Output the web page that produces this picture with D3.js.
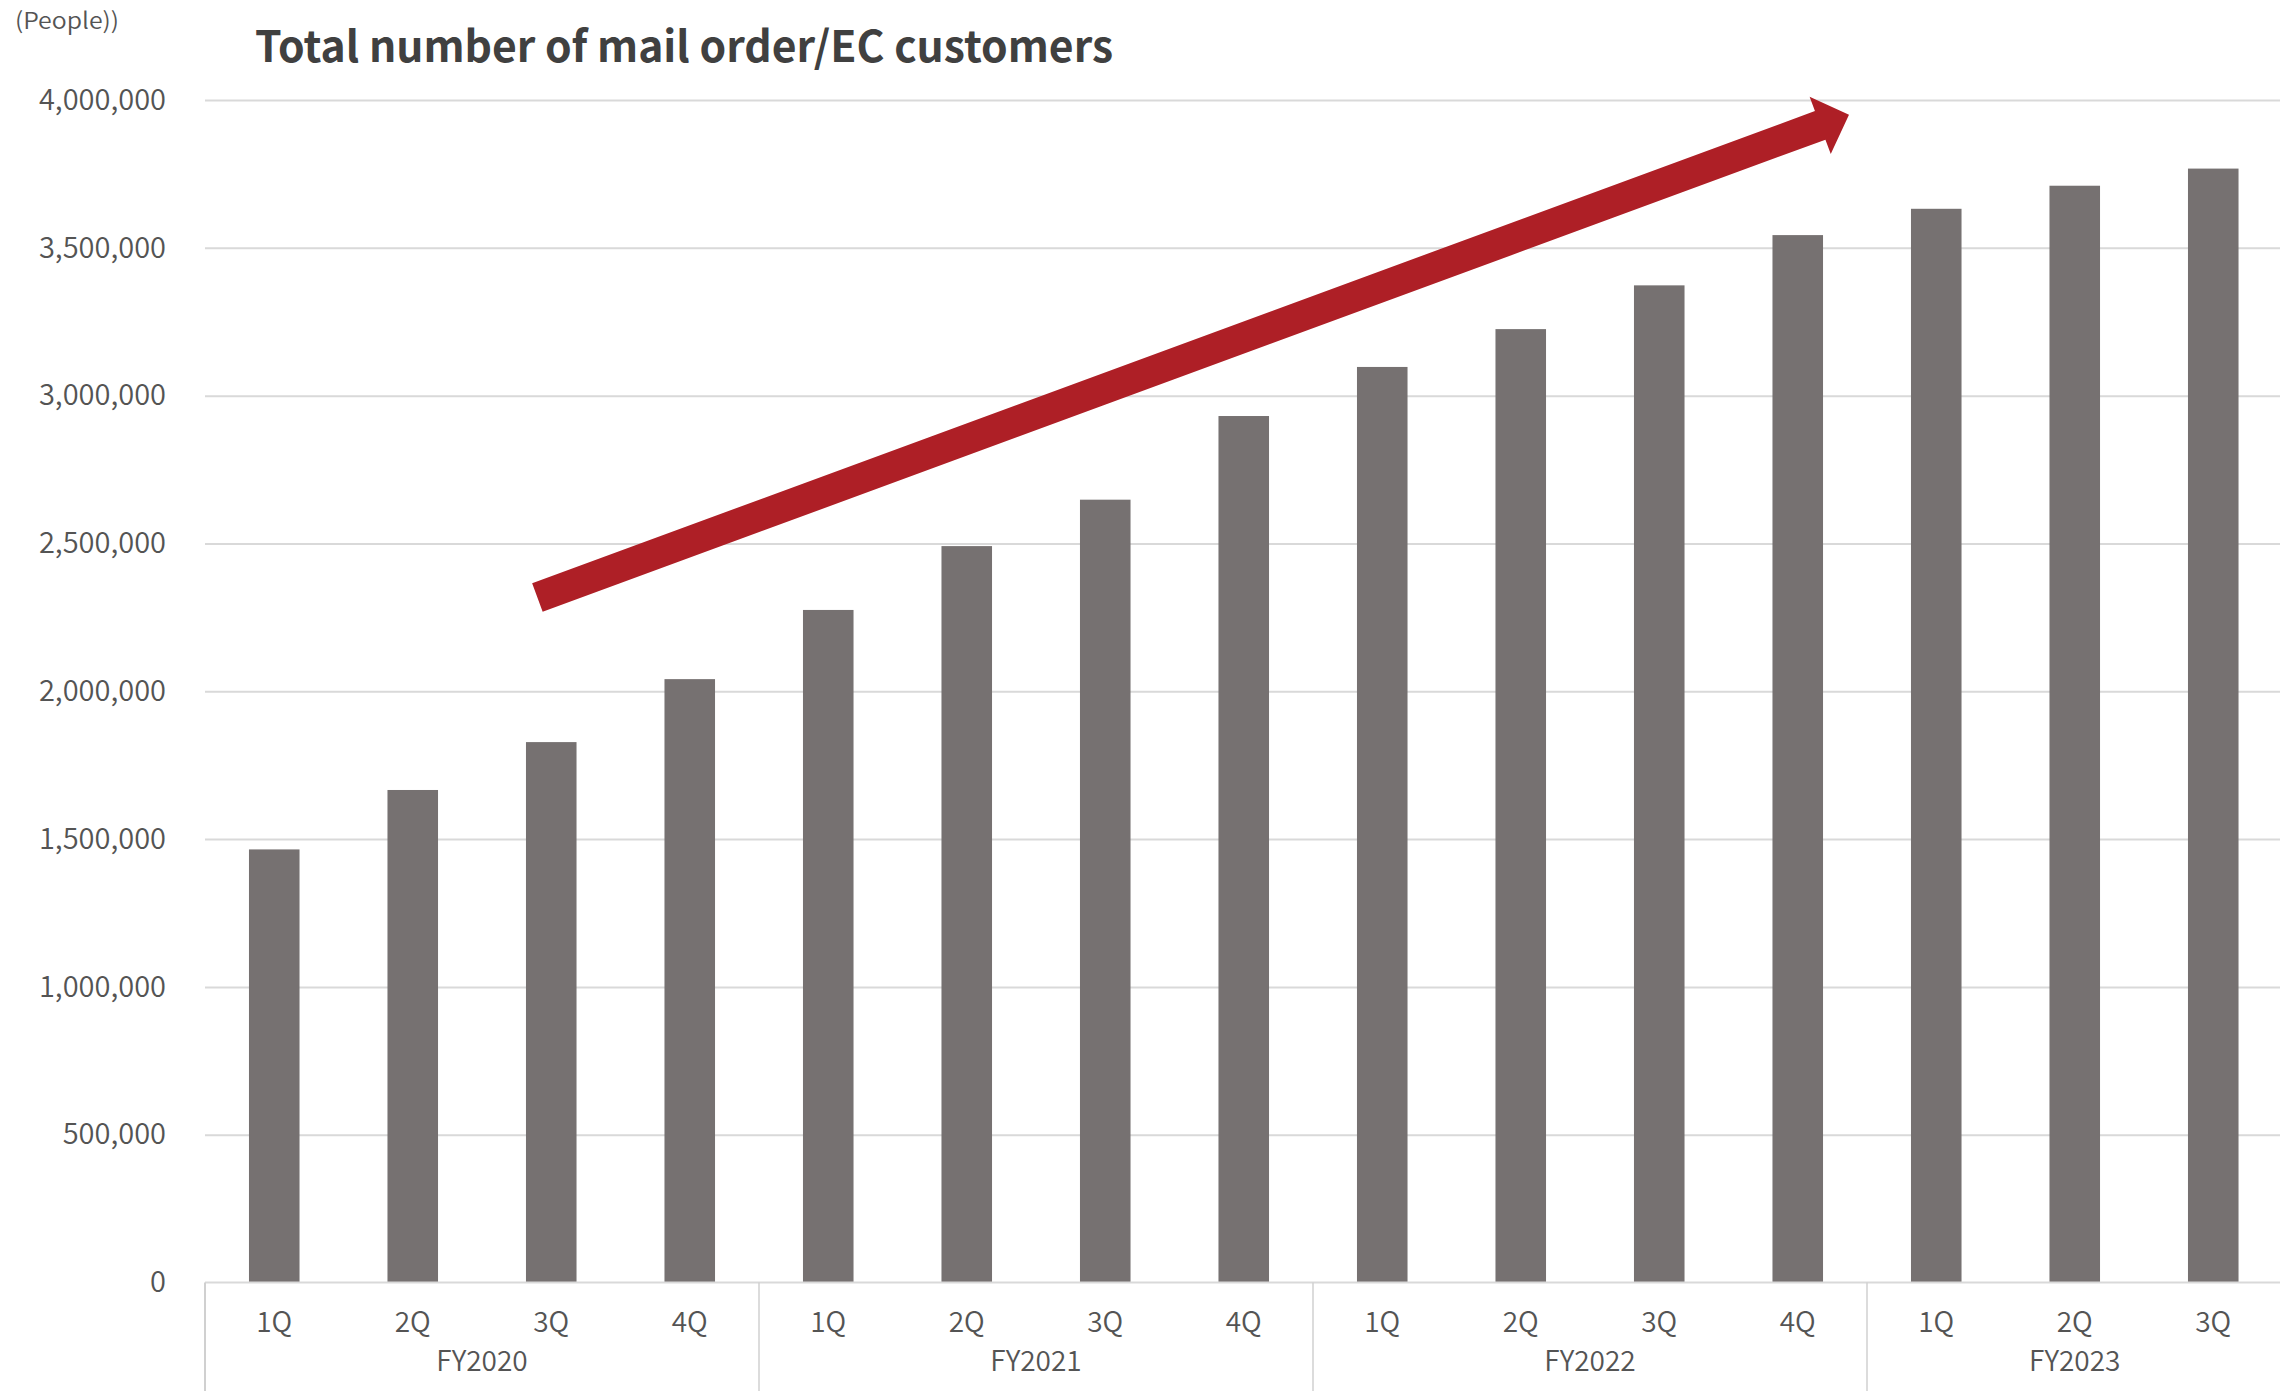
<!DOCTYPE html>
<html>
<head>
<meta charset="utf-8">
<script src="https://cdn.jsdelivr.net/npm/d3@7"></script>
<style>
  html, body { margin: 0; padding: 0; background: #ffffff; }
  svg { display: block; }
  text { font-family: "Noto Sans CJK JP", "Noto Sans", sans-serif; }
</style>
</head>
<body>
<svg id="chart" width="2280" height="1391"></svg>
<script>
// Quarterly totals of mail order / EC customers (people)
const fiscalYears = ["FY2020", "FY2021", "FY2022", "FY2023"];
const barYear = ["FY2020","FY2020","FY2020","FY2020",
                 "FY2021","FY2021","FY2021","FY2021",
                 "FY2022","FY2022","FY2022","FY2022",
                 "FY2023","FY2023","FY2023"];
const barQuarter = ["1Q","2Q","3Q","4Q",
                    "1Q","2Q","3Q","4Q",
                    "1Q","2Q","3Q","4Q",
                    "1Q","2Q","3Q"];
const customers = [1465000, 1666000, 1828000, 2041000,
                   2275000, 2491000, 2648000, 2931000,
                   3097000, 3225000, 3373000, 3543000,
                   3632000, 3710000, 3768000];
const yTicks = [0, 500000, 1000000, 1500000, 2000000, 2500000, 3000000, 3500000, 4000000];

// Trend arrow, given as (bar position, value) at its tail and tip
const trendFrom = [1.9, 2317000];
const trendTo = [11.37, 3950000];

const W = 2280, H = 1391;
const plot = { left: 205, right: 2282.5, top: 100, bottom: 1282.5 };
const labelColor = "#545454";

const svg = d3.select("#chart");
svg.append("rect").attr("width", W).attr("height", H).attr("fill", "#ffffff");

const keys = customers.map((d, i) => i);
const slot = d3.scaleBand().domain(keys).range([plot.left, plot.right]).padding(0);
const xBar = d3.scaleBand().domain(keys).range([plot.left, plot.right])
  .paddingInner(0.635).paddingOuter(0.3175);
const y = d3.scaleLinear().domain([0, 4000000]).range([plot.bottom, plot.top]);

// horizontal gridlines
const grid = svg.append("g")
  .attr("transform", `translate(${plot.left},0)`)
  .call(d3.axisLeft(y).tickValues(yTicks.filter(v => v > 0))
    .tickSize(-(plot.right - plot.left)).tickFormat(""));
grid.select(".domain").remove();
grid.selectAll(".tick line").attr("stroke", "#d9d9d9").attr("stroke-width", 2);

// value axis labels
const yAxis = svg.append("g")
  .attr("transform", `translate(166,0)`)
  .call(d3.axisLeft(y).tickValues(yTicks).tickSize(0).tickPadding(0)
    .tickFormat(d3.format(",")));
yAxis.select(".domain").remove();
yAxis.selectAll(".tick text")
  .attr("fill", labelColor)
  .style("font-size", "29px")
  .style("font-weight", "350")
  .style("font-family", "\"Noto Sans CJK JP\", sans-serif");

// bars
svg.append("g").selectAll("rect")
  .data(customers)
  .join("rect")
  .attr("x", (d, i) => xBar(i))
  .attr("width", xBar.bandwidth())
  .attr("y", d => y(d))
  .attr("height", d => y(0) - y(d))
  .attr("fill", "#767171");

// category axis: baseline, quarter labels, fiscal-year groups
const axisG = svg.append("g");
axisG.append("line")
  .attr("x1", plot.left).attr("x2", W)
  .attr("y1", y(0)).attr("y2", y(0))
  .attr("stroke", "#d9d9d9").attr("stroke-width", 2);

axisG.selectAll("text.quarter")
  .data(barQuarter)
  .join("text")
  .attr("class", "quarter")
  .attr("x", (d, i) => slot(i) + slot.bandwidth() / 2)
  .attr("y", 1332)
  .attr("text-anchor", "middle")
  .attr("fill", labelColor)
  .style("font-size", "28px")
  .style("font-weight", "350")
  .text(d => d);

const groups = fiscalYears.map(fy => {
  const idx = keys.filter(i => barYear[i] === fy);
  return { fy, start: slot(idx[0]), end: slot(idx[idx.length - 1]) + slot.bandwidth() };
});

axisG.selectAll("line.sep")
  .data(groups)
  .join("line")
  .attr("class", "sep")
  .attr("x1", d => d.start).attr("x2", d => d.start)
  .attr("y1", y(0)).attr("y2", H)
  .attr("stroke", "#d0d0d0").attr("stroke-width", d => d.start === plot.left ? 2 : 1.5);

axisG.selectAll("text.fy")
  .data(groups)
  .join("text")
  .attr("class", "fy")
  .attr("x", d => (d.start + d.end) / 2)
  .attr("y", 1371)
  .attr("text-anchor", "middle")
  .attr("fill", labelColor)
  .style("font-size", "28px")
  .style("font-weight", "350")
  .text(d => d.fy);

// trend arrow
const posX = p => plot.left + (p + 0.5) * slot.step();
const tail = [posX(trendFrom[0]), y(trendFrom[1])];
const tip = [posX(trendTo[0]), y(trendTo[1])];
const dx = tip[0] - tail[0], dy = tip[1] - tail[1];
const len = Math.hypot(dx, dy);
const u = [dx / len, dy / len];
const n = [-u[1], u[0]];
const shaftHalf = 15.2, headHalf = 30.6, headLen = 30.7;
const neck = [tip[0] - u[0] * headLen, tip[1] - u[1] * headLen];
const pt = (p, k) => [p[0] + n[0] * k, p[1] + n[1] * k];
const arrowPts = [pt(tail, shaftHalf), pt(neck, shaftHalf), pt(neck, headHalf), tip,
                  pt(neck, -headHalf), pt(neck, -shaftHalf), pt(tail, -shaftHalf)];
svg.append("path")
  .attr("d", d3.line()(arrowPts) + "Z")
  .attr("fill", "#ae1f26");

// titles
svg.append("text")
  .attr("x", 15).attr("y", 29)
  .attr("fill", labelColor)
  .attr("textLength", 104)
  .attr("lengthAdjust", "spacingAndGlyphs")
  .style("font-size", "23px")
  .style("font-weight", "350")
  .text("(People))");

svg.append("text")
  .attr("x", 255).attr("y", 62)
  .attr("fill", "#404040")
  .attr("textLength", 858)
  .attr("lengthAdjust", "spacingAndGlyphs")
  .style("font-size", "43px")
  .style("font-weight", "bold")
  .text("Total number of mail order/EC customers");
</script>
</body>
</html>
